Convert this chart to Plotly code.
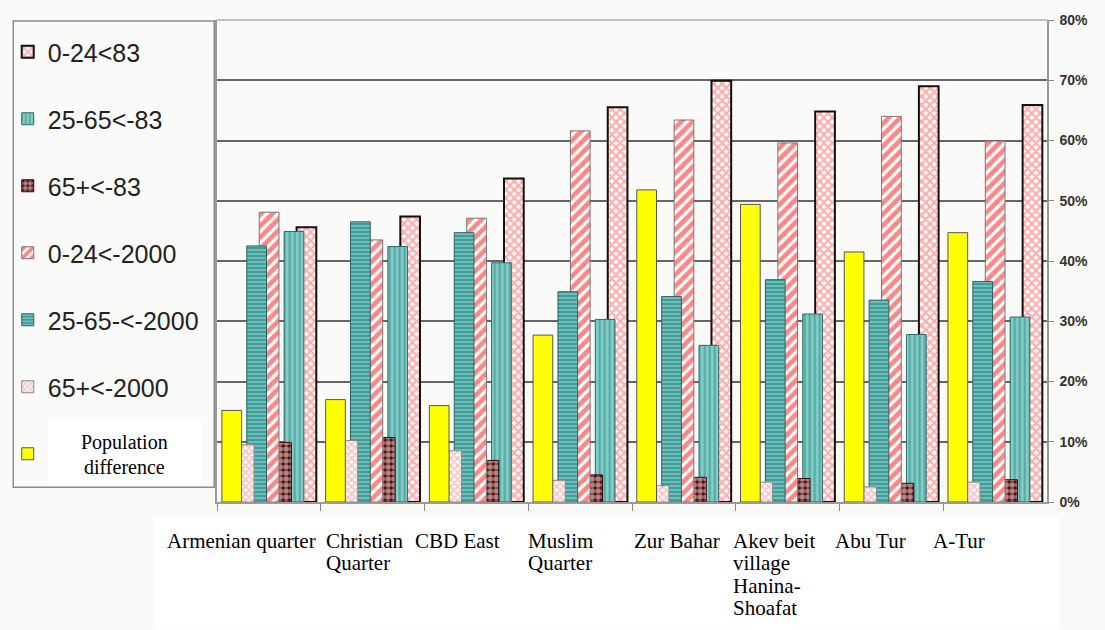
import plotly.graph_objects as go

# ---- data -------------------------------------------------------------
categories = ["Armenian quarter", "Christian Quarter", "CBD East", "Muslim Quarter",
              "Zur Bahar", "Akev beit village Hanina-Shoafat", "Abu Tur", "A-Tur"]
category_labels = ["Armenian quarter", "Christian<br>Quarter", "CBD East", "Muslim<br>Quarter",
                   "Zur Bahar", "Akev beit<br>village<br>Hanina-<br>Shoafat", "Abu Tur", "A-Tur"]

pop_difference = [15.2, 17.0, 16.0, 27.7, 51.8, 49.4, 41.5, 44.7]
age65_2000 = [9.5, 10.2, 8.5, 3.6, 2.7, 3.3, 2.5, 3.3]
age25_65_2000 = [42.5, 46.5, 44.7, 34.9, 34.1, 36.9, 33.5, 36.6]
age0_24_2000 = [48.1, 43.5, 47.1, 61.6, 63.4, 59.6, 64.0, 59.9]
age65_83 = [9.9, 10.7, 6.9, 4.5, 4.1, 3.9, 3.1, 3.7]
age25_65_83 = [44.9, 42.4, 39.7, 30.3, 26.0, 31.2, 27.8, 30.7]
age0_24_83 = [45.6, 47.4, 53.7, 65.5, 69.9, 64.8, 69.0, 65.9]

y_ticks = [0, 10, 20, 30, 40, 50, 60, 70, 80]
y_tick_labels = ["0%", "10%", "20%", "30%", "40%", "50%", "60%", "70%", "80%"]

# ---- page geometry (pixels) ------------------------------------------
W, H = 1105, 630
PL, PR, PT, PB = 213, 1047, 15, 502   # plot area edges


def px_x(px):
    return (px - PL) / (PR - PL)


def px_y(py):
    return (PB - py) / (PB - PT)


BAR_W = 0.19    # bar width in category units
STEP = 0.12     # distance between neighbouring bars (bars overlap)

# series drawn bottom -> top; "slot" is the left-to-right place in a cluster
series = [
    dict(name="0-24<83", y=age0_24_83, slot=6,
         line=dict(color="#111111", width=2),
         pattern=dict(shape="x", bgcolor="#ffffff", fgcolor="#ff5c5c", size=6, solidity=0.6)),
    dict(name="25-65<-83", y=age25_65_83, slot=5,
         line=dict(color="#2c6e6c", width=1),
         pattern=dict(shape="|", bgcolor="#86ccc7", fgcolor="#16807b", size=5, solidity=0.4)),
    dict(name="65+<-83", y=age65_83, slot=4,
         line=dict(color="#3a0a0a", width=1),
         pattern=dict(shape=".", bgcolor="#5a0c0c", fgcolor="#ffffff", size=6, solidity=0.65)),
    dict(name="0-24<-2000", y=age0_24_2000, slot=3,
         line=dict(color="#777777", width=1),
         pattern=dict(shape="/", bgcolor="#ffffff", fgcolor="#ff0f0f", size=8, solidity=0.6)),
    dict(name="25-65-<-2000", y=age25_65_2000, slot=2,
         line=dict(color="#2c6462", width=1),
         pattern=dict(shape="-", bgcolor="#3c9d99", fgcolor="#e4f2f0", size=4, solidity=0.35)),
    dict(name="65+<-2000", y=age65_2000, slot=1,
         line=dict(color="#888888", width=1),
         pattern=dict(shape="x", bgcolor="#ffffff", fgcolor="#ef8a8a", size=5, solidity=0.6)),
    dict(name="", y=pop_difference, slot=0,
         line=dict(color="#555555", width=1),
         color="#ffff00"),
]

# vertical centre (px) of each legend row
legend_rows_py = [52, 119, 186, 253, 320, 387, 454]

fig = go.Figure()
legend_layout = {}
for i, s in enumerate(series):
    marker = dict(line=s["line"])
    if "pattern" in s:
        marker["color"] = s["pattern"]["fgcolor"]
        marker["pattern"] = s["pattern"]
    else:
        marker["color"] = s["color"]
    lg = "legend" if i == 0 else f"legend{i + 1}"
    fig.add_trace(go.Bar(
        x=categories, y=s["y"], name=s["name"],
        width=BAR_W, offset=(s["slot"] - 3) * STEP - BAR_W / 2,
        marker=marker, legend=lg,
        hovertemplate="%{x}: %{y}%<extra></extra>",
    ))
    legend_layout[lg] = dict(
        xref="container", yref="container", x=0.007, y=1 - legend_rows_py[i] / H,
        xanchor="left", yanchor="middle",
        bgcolor="rgba(0,0,0,0)", borderwidth=0,
        font=dict(family="Liberation Sans", size=25, color="#222222"),
        itemwidth=30)

# ---- category labels in a white text box under the axis ---------------
label_left_px = [161, 320, 410, 523, 630, 729, 832, 930]
first_line_py, line_gap = 541, 22.7
annotations = []
for lab, lx in zip(category_labels, label_left_px):
    for j, part in enumerate(lab.split("<br>")):
        annotations.append(dict(
            x=px_x(lx), y=px_y(first_line_py + j * line_gap),
            xref="paper", yref="paper", xanchor="left", yanchor="middle",
            text=part, showarrow=False,
            font=dict(family="Liberation Serif", size=21, color="#000000")))

# "Population difference" legend caption
for j, part in enumerate(["Population", "difference"]):
    annotations.append(dict(
        x=px_x(120), y=px_y(442 + j * 24.5), xref="paper", yref="paper",
        xanchor="center", yanchor="middle", text=part, showarrow=False,
        font=dict(family="Liberation Serif", size=20, color="#000000")))

shapes = [
    # legend frame
    dict(type="rect", xref="paper", yref="paper",
         x0=px_x(8), x1=px_x(210), y0=px_y(16), y1=px_y(487),
         line=dict(color="#8c8c8c", width=1.5), fillcolor="rgba(0,0,0,0)", layer="above"),
    # white caption box inside the legend
    dict(type="rect", xref="paper", yref="paper",
         x0=px_x(43), x1=px_x(197), y0=px_y(418), y1=px_y(484),
         line=dict(width=0), fillcolor="#ffffff", layer="above"),
    # white label box below the chart
    dict(type="rect", xref="paper", yref="paper",
         x0=px_x(150), x1=px_x(1060), y0=px_y(517), y1=px_y(631),
         line=dict(width=0), fillcolor="#ffffff", layer="above"),
    # light top border of the plot area
    dict(type="line", xref="paper", yref="paper",
         x0=0, x1=1, y0=1, y1=1, line=dict(color="#b9c6c6", width=2), layer="above"),
]

fig.update_layout(
    width=W, height=H,
    margin=dict(l=PL, r=W - PR, t=PT, b=H - PB),
    paper_bgcolor="#fafaf8", plot_bgcolor="#fafaf8",
    barmode="overlay",
    showlegend=True,
    xaxis=dict(type="category", range=[-0.5, 7.5], showticklabels=False,
               ticks="outside", tickson="boundaries", ticklen=7, tickcolor="#8a8a8a",
               showline=True, linecolor="#9a9a9a", linewidth=1.5, showgrid=False,
               zeroline=False),
    yaxis=dict(side="right", range=[0, 80], tickvals=y_ticks, ticktext=y_tick_labels,
               ticks="outside", ticklen=5, tickcolor="#888888", ticklabelstandoff=3,
               showline=True, mirror=True, linecolor="#9a9a9a", linewidth=1.5,
               showgrid=True, gridcolor="#666666", gridwidth=1.5, zeroline=False,
               tickfont=dict(family="Liberation Sans", size=14, color="#333333", weight="bold")),
    shapes=shapes,
    annotations=annotations,
    **legend_layout,
)

fig.write_html("out.html")
